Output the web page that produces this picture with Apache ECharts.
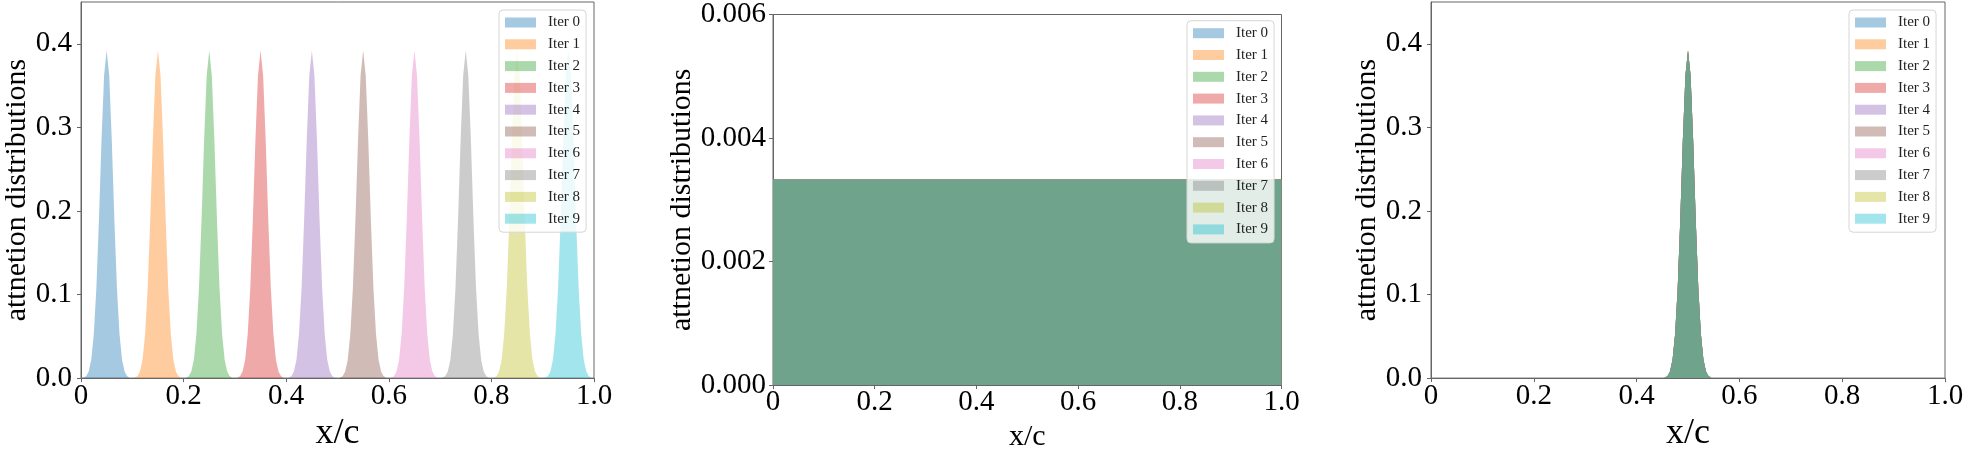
<!DOCTYPE html>
<html>
<head>
<meta charset="utf-8">
<script src="https://cdn.jsdelivr.net/npm/echarts@6/dist/echarts.min.js"></script>
<style>html,body{margin:0;padding:0;background:#fff}#c{width:1969px;height:457px}</style>
</head>
<body>
<div id="c"></div>
<script>
// ---- data ----
const iterNames = ['Iter 0','Iter 1','Iter 2','Iter 3','Iter 4','Iter 5','Iter 6','Iter 7','Iter 8','Iter 9'];
const iterColors = ['#1f77b4','#ff7f0e','#2ca02c','#d62728','#9467bd','#8c564b','#e377c2','#7f7f7f','#bcbd22','#17becf'];
// peak profile (offset from peak centre in x/c, height)
const peakOffsets = [-0.045,-0.04,-0.035,-0.03,-0.025,-0.02,-0.015,-0.01,-0.005,0,0.005,0.01,0.015,0.02,0.025,0.03,0.035,0.04,0.045];
const peakProfile = [0.0006,0.0023,0.0078,0.022,0.053,0.108,0.19,0.285,0.362,0.392,0.362,0.285,0.19,0.108,0.053,0.022,0.0078,0.0023,0.0006];
const leftCenters = [0.05,0.15,0.25,0.35,0.45,0.55,0.65,0.75,0.85,0.95];
const rightCenters = [0.5,0.5,0.5,0.5,0.5,0.5,0.5,0.5,0.5,0.5];
const uniformX = [0, 1];
const uniformValues = [0.00333,0.00333,0.00333,0.00333,0.00333,0.00333,0.00333,0.00333,0.00333,0.00333];
const xTicks = [0, 0.2, 0.4, 0.6, 0.8, 1.0];
const yTicksPeak = [0, 0.1, 0.2, 0.3, 0.4];
const yTicksUniform = [0, 0.002, 0.004, 0.006];

function rgba(hex, a){
  const r=parseInt(hex.slice(1,3),16), g=parseInt(hex.slice(3,5),16), b=parseInt(hex.slice(5,7),16);
  return 'rgba('+r+','+g+','+b+','+a+')';
}
const FONT = 'Liberation Serif';
const AX = '#666';

function peakData(c){ return peakOffsets.map((o,i)=>[+(c+o).toFixed(4), peakProfile[i]]); }

const series = [];
iterNames.forEach((n,i)=>{
  const base = {
    name:n, type:'line', symbol:'none', showSymbol:false, silent:true,
    itemStyle:{color:rgba(iterColors[i],0.4)},
    lineStyle:{width:0, opacity:0},
    areaStyle:{color:rgba(iterColors[i],0.4), opacity:1, origin:'start'},
    animation:false
  };
  series.push(Object.assign({}, base, {xAxisIndex:0, yAxisIndex:0, data:peakData(leftCenters[i])}));
  series.push(Object.assign({}, base, {xAxisIndex:1, yAxisIndex:1, data:uniformX.map(x=>[x, uniformValues[i]])}));
  series.push(Object.assign({}, base, {xAxisIndex:2, yAxisIndex:2, data:peakData(rightCenters[i])}));
});

function xAxis(grid, nameSize, nameGap, margin){
  return {
    type:'value', gridIndex:grid, min:0, max:1, interval:0.2,
    name:'x/c', nameLocation:'middle', nameGap:nameGap,
    nameTextStyle:{fontFamily:FONT, fontSize:nameSize, color:'#000'},
    axisLine:{show:true, lineStyle:{color:AX, width:1}},
    axisTick:{show:true, inside:false, length:4, lineStyle:{color:AX}, customValues:xTicks},
    axisLabel:{fontFamily:FONT, fontSize:29, color:'#000', margin:margin, customValues:xTicks,
      formatter:v=>(v===0?'0':v.toFixed(1))},
    splitLine:{show:false}
  };
}
function yAxis(grid, max, ticks, digits, nameGap, margin){
  return {
    type:'value', gridIndex:grid, min:0, max:max,
    name:'attnetion distributions', nameLocation:'middle', nameGap:nameGap,
    nameTextStyle:{fontFamily:FONT, fontSize:30, color:'#000'},
    axisLine:{show:true, lineStyle:{color:AX, width:1}},
    axisTick:{show:true, inside:false, length:4, lineStyle:{color:AX}, customValues:ticks},
    axisLabel:{fontFamily:FONT, fontSize:29, color:'#000', margin:margin, customValues:ticks,
      formatter:v=>v.toFixed(digits)},
    splitLine:{show:false}
  };
}
function legend(left, top){
  return {
    orient:'vertical', left:left, top:top,
    data:iterNames.map((n,i)=>({name:n, icon:'rect', itemStyle:{color:rgba(iterColors[i],0.4)}})),
    icon:'rect', itemWidth:31, itemHeight:10, itemGap:6.8,
    padding:[5,6,6,6],
    backgroundColor:'rgba(255,255,255,0.8)', borderColor:'#d6d6d6', borderWidth:1, borderRadius:4,
    textStyle:{fontFamily:FONT, fontSize:15, color:'#222', lineHeight:15, padding:[0,0,0,7]},
    selectedMode:false, z:10
  };
}

const chart = echarts.init(document.getElementById('c'), null, {renderer:'canvas'});
chart.setOption({
  backgroundColor:'#fff',
  animation:false,
  grid:[
    {left:81, top:2, width:513, height:382.5, show:true, borderColor:AX, borderWidth:1, backgroundColor:'transparent'},
    {left:773, top:13.3, width:508.5, height:378.4, show:true, borderColor:AX, borderWidth:1, backgroundColor:'transparent'},
    {left:1431, top:2, width:514, height:383, show:true, borderColor:AX, borderWidth:1, backgroundColor:'transparent'}
  ],
  xAxis:[xAxis(0,36,33.5,4), xAxis(1,30,31.5,3), xAxis(2,36,33.5,4)],
  yAxis:[yAxis(0,0.45,yTicksPeak,1,47.5,9), yAxis(1,0.006,yTicksUniform,3,76,7), yAxis(2,0.45,yTicksPeak,1,46,9)],
  legend:[legend(499,10), legend(1187,20.7), legend(1849,10)],
  series:series
});
</script>
</body>
</html>
